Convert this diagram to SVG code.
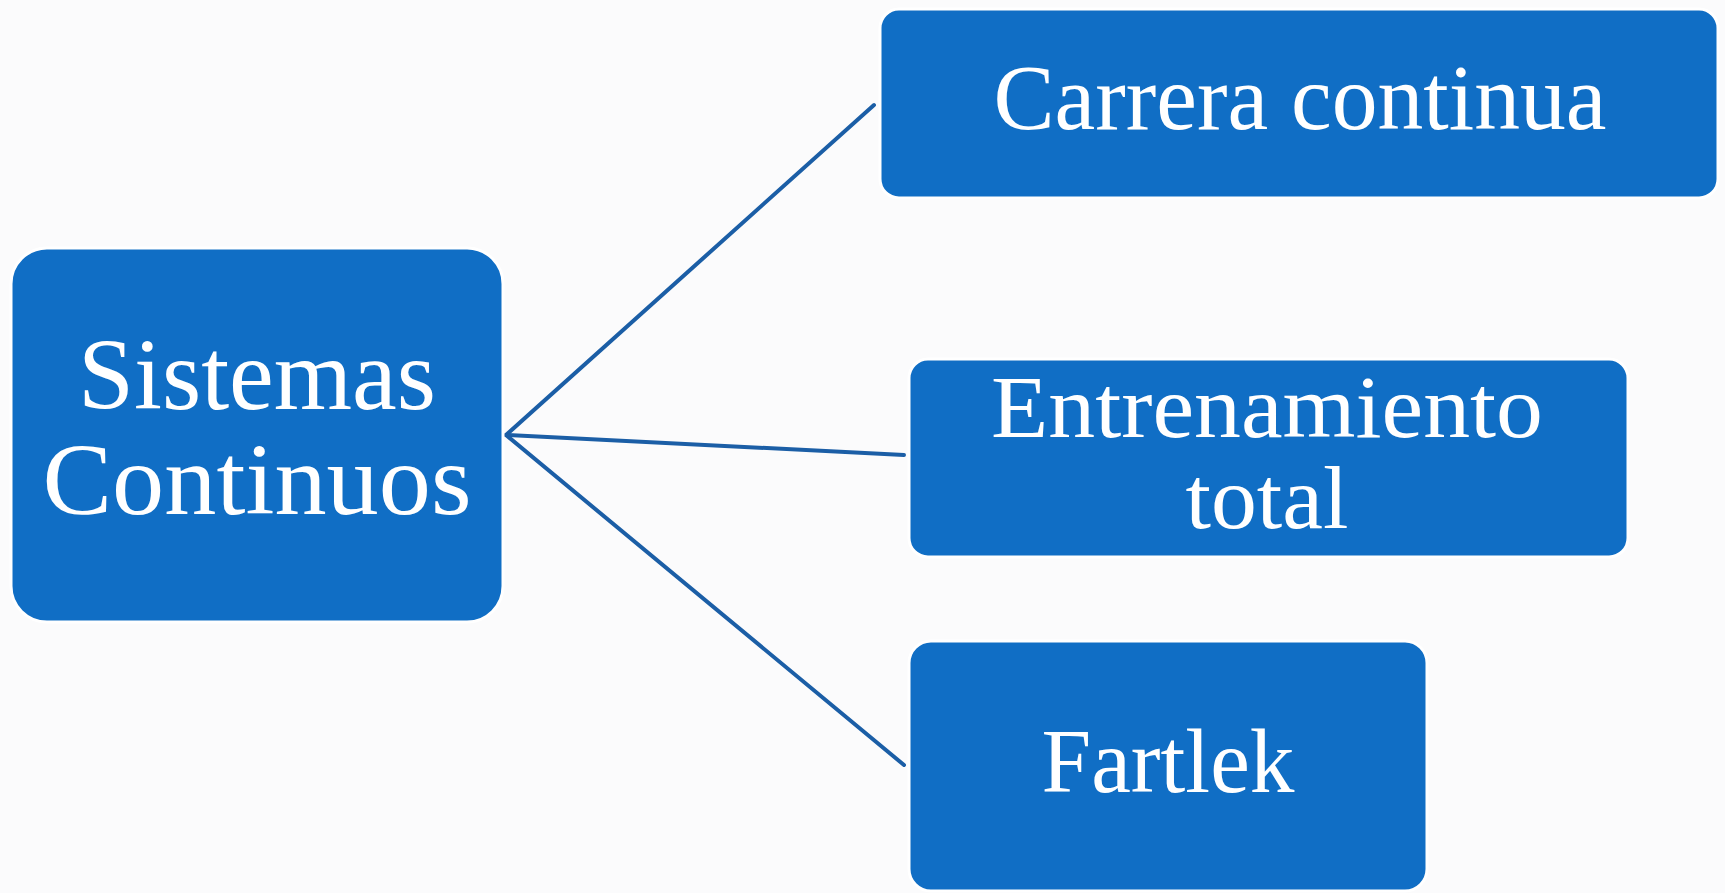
<svg xmlns="http://www.w3.org/2000/svg" width="1725" height="893" viewBox="0 0 1725 893">
<style>
.box{fill:#106EC5;stroke:#FFFFFF;stroke-width:3}
.lbl{fill:#FFFFFF;font-family:"Liberation Serif","DejaVu Serif",serif;text-anchor:middle}
.con{stroke:#1B5EA6;stroke-width:4;fill:none;stroke-linecap:round}
</style>
<rect width="1725" height="893" fill="#FBFBFC"/>
<g id="connectors">
<line class="con" x1="506" y1="435" x2="874" y2="105"/>
<line class="con" x1="506" y1="435" x2="904" y2="455"/>
<line class="con" x1="506" y1="435" x2="904" y2="765"/>
</g>
<g id="node-sistemas">
<rect class="box" x="11" y="248" width="492" height="374" rx="36"/>
<text class="lbl" x="257" y="409" font-size="102" textLength="358" lengthAdjust="spacingAndGlyphs">Sistemas</text>
<text class="lbl" x="257" y="514" font-size="102" textLength="429" lengthAdjust="spacingAndGlyphs">Continuos</text>
</g>
<g id="node-carrera">
<rect class="box" x="880" y="9" width="838" height="189" rx="19"/>
<text class="lbl" x="1300" y="129" font-size="93" textLength="613" lengthAdjust="spacingAndGlyphs">Carrera continua</text>
</g>
<g id="node-entrenamiento">
<rect class="box" x="909" y="359" width="719" height="198" rx="19"/>
<text class="lbl" x="1267" y="437" font-size="88" textLength="552" lengthAdjust="spacingAndGlyphs">Entrenamiento</text>
<text class="lbl" x="1267" y="528" font-size="88" textLength="163" lengthAdjust="spacingAndGlyphs">total</text>
</g>
<g id="node-fartlek">
<rect class="box" x="909" y="641" width="518" height="250" rx="22"/>
<text class="lbl" x="1168" y="792" font-size="90" textLength="253" lengthAdjust="spacingAndGlyphs">Fartlek</text>
</g>
</svg>
